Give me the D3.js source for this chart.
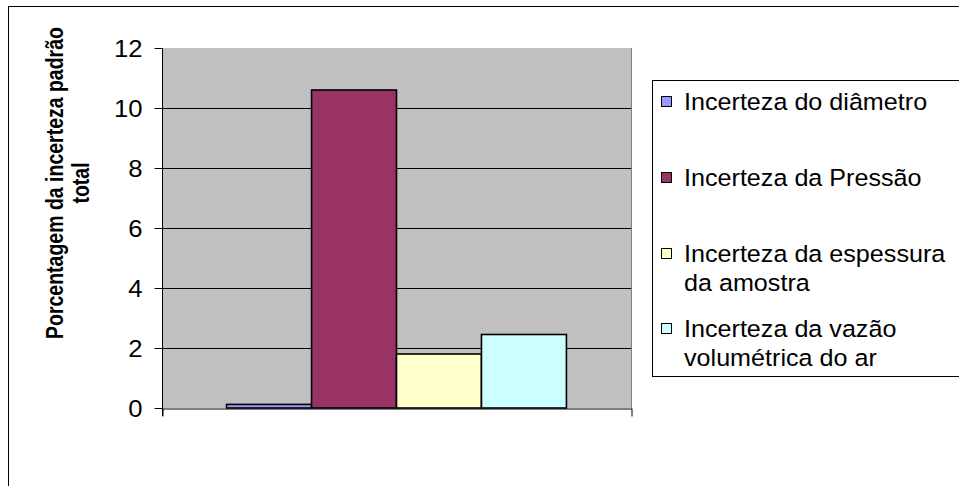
<!DOCTYPE html>
<html>
<head>
<meta charset="utf-8">
<script src="https://cdn.jsdelivr.net/npm/d3@7"></script>
<style>
  html, body { margin: 0; padding: 0; background: #fff; }
  svg { display: block; font-family: "Liberation Sans", Arial, sans-serif; }
</style>
</head>
<body>
<svg id="svg" width="959" height="486"></svg>
<script>
(function () {
  // data
  const series = ['Incerteza do diâmetro', 'Incerteza da Pressão', 'Incerteza da espessura da amostra', 'Incerteza da vazão volumétrica do ar'];
  const values = [0.12, 10.6, 1.8, 2.45];
  const colors = ['#9999FF', '#993366', '#FFFFCC', '#CCFFFF'];
  const legendLines = [['Incerteza do diâmetro'], ['Incerteza da Pressão'], ['Incerteza da espessura', 'da amostra'], ['Incerteza da vazão', 'volumétrica do ar']];
  const yTicks = [0, 2, 4, 6, 8, 10, 12];
  const yTitle = ['Porcentagem da incerteza padrão', 'total'];

  // text in the original is a little wider than tall
  const SX = 1.07;

  const svg = d3.select('#svg');
  const plot = { left: 162, right: 631, top: 48, bottom: 408 };

  // outer chart border
  svg.append('rect')
    .attr('x', 8.5).attr('y', 6.5).attr('width', 1000).attr('height', 1000)
    .attr('fill', '#fff').attr('stroke', '#000').attr('stroke-width', 1);

  const y = d3.scaleLinear().domain([0, 12]).range([plot.bottom, plot.top]);
  const x0 = d3.scaleBand().domain(['g']).range([plot.left, plot.right]).paddingInner(0).paddingOuter(0.19);
  const x1 = d3.scaleBand().domain(series).range([0, x0.bandwidth()]);

  // plot background
  svg.append('rect')
    .attr('x', plot.left).attr('y', plot.top)
    .attr('width', plot.right - plot.left).attr('height', plot.bottom - plot.top)
    .attr('fill', '#C0C0C0');

  // gridlines
  svg.append('g').selectAll('line')
    .data(yTicks.filter(d => d > 0 && d < 12))
    .join('line')
    .attr('x1', plot.left).attr('x2', plot.right)
    .attr('y1', d => Math.round(y(d)) + 0.5).attr('y2', d => Math.round(y(d)) + 0.5)
    .attr('stroke', '#000').attr('stroke-width', 1);

  // right edge of the plot area
  svg.append('line')
    .attr('x1', plot.right + 0.5).attr('x2', plot.right + 0.5)
    .attr('y1', plot.top).attr('y2', plot.bottom)
    .attr('stroke', '#808080');

  // bars
  svg.append('g').selectAll('rect')
    .data(values)
    .join('rect')
    .attr('x', (d, i) => x0('g') + x1(series[i]))
    .attr('y', d => y(d))
    .attr('width', x1.bandwidth())
    .attr('height', d => y(0) - y(d))
    .attr('fill', (d, i) => colors[i])
    .attr('stroke', '#000').attr('stroke-width', 1.6);

  // y axis
  const yAxis = svg.append('g')
    .attr('transform', `translate(${plot.left + 0.5},0)`)
    .call(d3.axisLeft(y).tickValues(yTicks).tickSize(8).tickSizeOuter(0).tickPadding(12));
  yAxis.select('.domain').remove();
  yAxis.selectAll('.tick line').attr('stroke', '#000');
  yAxis.selectAll('.tick text')
    .attr('font-size', 24).attr('fill', '#000').attr('font-family', null)
    .attr('dy', '0.36em')
    .each(function () {
      const t = d3.select(this);
      t.attr('transform', `translate(${t.attr('x')},0) scale(${SX},1)`).attr('x', 0);
    });
  svg.append('line')
    .attr('x1', plot.left + 0.5).attr('x2', plot.left + 0.5)
    .attr('y1', plot.top).attr('y2', plot.bottom + 8)
    .attr('stroke', '#000');

  // x axis with tick marks at the category edges
  const xEdge = d3.scaleLinear().domain([0, 1]).range([plot.left + 0.5, plot.right + 0.5]);
  const xAxis = svg.append('g')
    .attr('transform', `translate(0,${plot.bottom + 0.5})`)
    .call(d3.axisBottom(xEdge).tickValues([0, 1]).tickSize(8).tickSizeOuter(0).tickFormat(''));
  xAxis.select('.domain').attr('stroke', '#000');
  xAxis.selectAll('.tick line').attr('stroke', '#000');

  // y axis title, two centred lines
  const titleY = 183;
  yTitle.forEach((line, i) => {
    svg.append('text')
      .attr('transform', `translate(${63 + i * 26},${titleY}) rotate(-90) scale(1,1.18)`)
      .attr('text-anchor', 'middle')
      .attr('font-size', 19.5).attr('font-weight', 'bold')
      .text(line);
  });

  // legend
  const legend = svg.append('g');
  legend.append('rect')
    .attr('x', 652.5).attr('y', 80.5).attr('width', 400).attr('height', 296)
    .attr('fill', '#fff').attr('stroke', '#000');
  const baselines = [110, 186, 262, 337];
  legendLines.forEach((lines, i) => {
    legend.append('rect')
      .attr('x', 661.5).attr('y', baselines[i] - 13.5)
      .attr('width', 10).attr('height', 10)
      .attr('fill', colors[i]).attr('stroke', '#000');
    lines.forEach((l, j) => {
      legend.append('text')
        .attr('transform', `translate(684,${baselines[i] + j * 29}) scale(${SX},1)`)
        .attr('font-size', 23.5)
        .text(l);
    });
  });
})();
</script>
</body>
</html>
